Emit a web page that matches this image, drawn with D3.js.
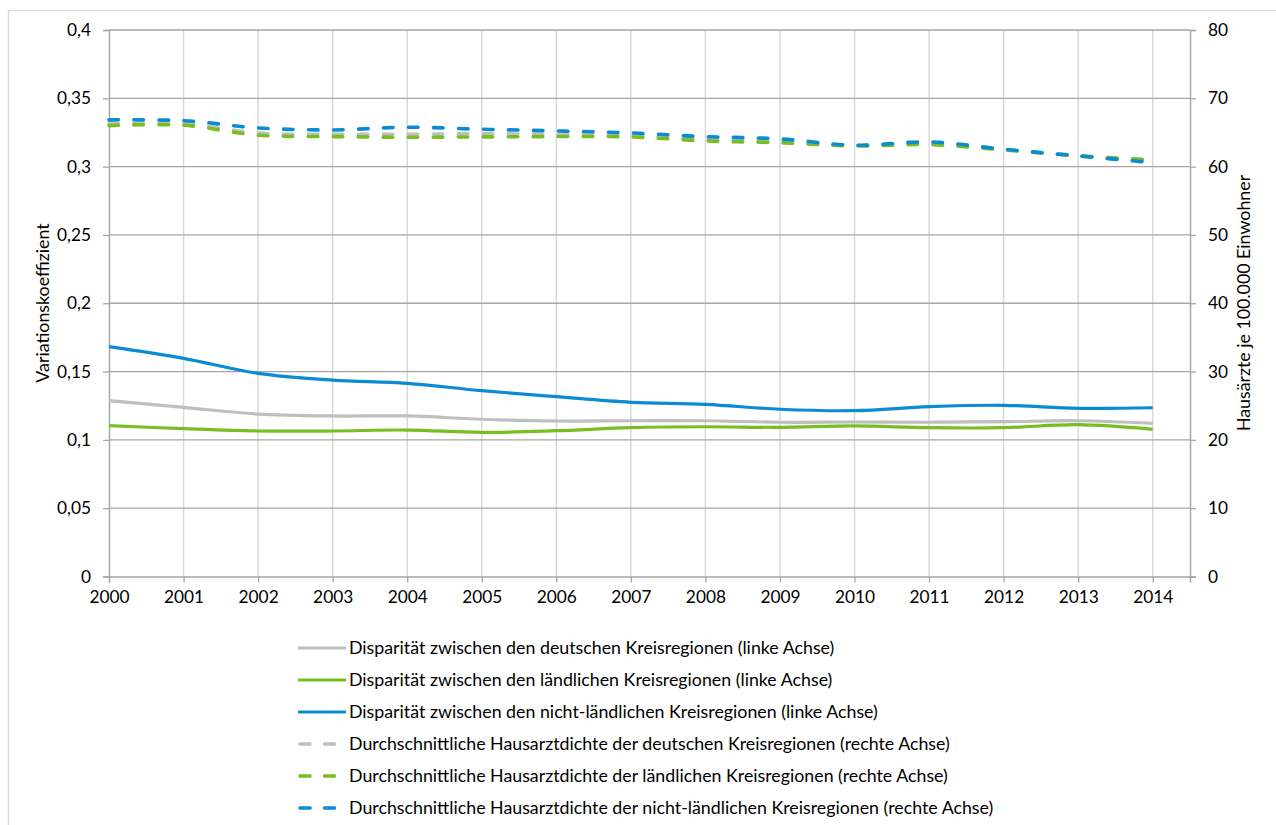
<!DOCTYPE html>
<html>
<head>
<meta charset="utf-8">
<script src="https://cdn.jsdelivr.net/npm/d3@7"></script>
<style>
  html, body { margin: 0; padding: 0; background: #ffffff; }
  svg { display: block; font-family: "Lato", "Open Sans", sans-serif; }
</style>
</head>
<body>
<svg id="chart" width="1276" height="825"></svg>
<script>
// ---- data ----
const years = [2000, 2001, 2002, 2003, 2004, 2005, 2006, 2007, 2008, 2009, 2010, 2011, 2012, 2013, 2014];

// Variationskoeffizient (linke Achse)
const dispDeutsch   = [0.1287, 0.1238, 0.1189, 0.1175, 0.1175, 0.1151, 0.1138, 0.1140, 0.1140, 0.1129, 0.1131, 0.1129, 0.1133, 0.1140, 0.1121];
const dispLaendlich = [0.1104, 0.1082, 0.1065, 0.1065, 0.1072, 0.1055, 0.1067, 0.1089, 0.1096, 0.1092, 0.1102, 0.1089, 0.1089, 0.1111, 0.1077];
const dispNicht     = [0.1682, 0.1597, 0.1487, 0.1438, 0.1414, 0.1360, 0.1316, 0.1275, 0.1260, 0.1224, 0.1214, 0.1243, 0.1253, 0.1231, 0.1235];

// Hausärzte je 100.000 Einwohner (rechte Achse)
const dichteDeutsch   = [66.35, 66.35, 64.90, 64.74, 64.74, 64.80, 64.74, 64.60, 64.06, 63.80, 63.10, 63.40, 62.50, 61.57, 60.76];
const dichteLaendlich = [66.00, 66.06, 64.60, 64.40, 64.30, 64.35, 64.40, 64.35, 63.76, 63.50, 63.03, 63.22, 62.45, 61.60, 60.98];
const dichteNicht     = [66.84, 66.73, 65.67, 65.37, 65.77, 65.47, 65.23, 64.93, 64.39, 64.06, 63.13, 63.62, 62.55, 61.57, 60.59];

const leftTicks  = [0, 0.05, 0.1, 0.15, 0.2, 0.25, 0.3, 0.35, 0.4];
const rightTicks = [0, 10, 20, 30, 40, 50, 60, 70, 80];

const leftTitle  = "Variationskoeffizient";
const rightTitle = "Hausärzte je 100.000 Einwohner";

const seriesNames = [
  "Disparität zwischen den deutschen Kreisregionen (linke Achse)",
  "Disparität zwischen den ländlichen Kreisregionen (linke Achse)",
  "Disparität zwischen den nicht-ländlichen Kreisregionen (linke Achse)",
  "Durchschnittliche Hausarztdichte der deutschen Kreisregionen (rechte Achse)",
  "Durchschnittliche Hausarztdichte der ländlichen Kreisregionen (rechte Achse)",
  "Durchschnittliche Hausarztdichte der nicht-ländlichen Kreisregionen (rechte Achse)"
];

// ---- styling ----
const cGray = "#bfbfbf", cGreen = "#78be20", cBlue = "#0a8bd3";
const series = [
  { name: seriesNames[0], values: dispDeutsch,     axis: "left",  color: cGray,  dashed: false },
  { name: seriesNames[1], values: dispLaendlich,   axis: "left",  color: cGreen, dashed: false },
  { name: seriesNames[2], values: dispNicht,       axis: "left",  color: cBlue,  dashed: false },
  { name: seriesNames[3], values: dichteDeutsch,   axis: "right", color: cGray,  dashed: true },
  { name: seriesNames[4], values: dichteLaendlich, axis: "right", color: cGreen, dashed: true },
  { name: seriesNames[5], values: dichteNicht,     axis: "right", color: cBlue,  dashed: true }
];

const svg = d3.select("#chart");
const plot = { left: 109, right: 1190, top: 30, bottom: 576.5 };
const tickFont = 17.3, textFont = 17.8;

const x = d3.scaleLinear().domain([2000, 2014.5]).range([plot.left, plot.right]);
const yL = d3.scaleLinear().domain([0, 0.4]).range([plot.bottom, plot.top]);
const yR = d3.scaleLinear().domain([0, 80]).range([plot.bottom, plot.top]);

// chart border
svg.append("rect").attr("x", 8.5).attr("y", 10.5).attr("width", 1300).attr("height", 900)
  .attr("fill", "none").attr("stroke", "#d9d9d9").attr("stroke-width", 1.3);

// vertical gridlines
svg.append("g").selectAll("line").data(years.slice(1)).join("line")
  .attr("x1", d => x(d)).attr("x2", d => x(d))
  .attr("y1", plot.top).attr("y2", plot.bottom)
  .attr("stroke", "#d9d9d9").attr("stroke-width", 1.5);

// horizontal gridlines
svg.append("g").selectAll("line").data(leftTicks.slice(1)).join("line")
  .attr("x1", plot.left).attr("x2", plot.right)
  .attr("y1", d => yL(d)).attr("y2", d => yL(d))
  .attr("stroke", "#a6a6a6").attr("stroke-width", 1.3);

const fmtL = d => String(d).replace(".", ",");

// left axis
const gL = svg.append("g").attr("transform", `translate(${plot.left},0)`)
  .call(d3.axisLeft(yL).tickValues(leftTicks).tickFormat(fmtL).tickSize(6).tickPadding(12));
// right axis
const gR = svg.append("g").attr("transform", `translate(${plot.right},0)`)
  .call(d3.axisRight(yR).tickValues(rightTicks).tickFormat(d3.format("d")).tickSize(6).tickPadding(12));
// bottom axis
const gB = svg.append("g").attr("transform", `translate(0,${plot.bottom})`)
  .call(d3.axisBottom(x).tickValues(years).tickFormat(d3.format("d")).tickSize(6).tickPadding(8));

[gL, gR, gB].forEach(g => {
  g.select(".domain").attr("stroke", "#a6a6a6").attr("stroke-width", 1.5);
  g.selectAll(".tick line").attr("stroke", "#a6a6a6").attr("stroke-width", 1.3);
  g.selectAll("text").attr("fill", "#000").attr("font-size", tickFont)
    .attr("font-family", "Lato, 'Open Sans', sans-serif");
});

// axis titles
svg.append("text").attr("transform", `translate(49,303) rotate(-90)`)
  .attr("text-anchor", "middle").attr("font-size", textFont).attr("fill", "#000").text(leftTitle);
svg.append("text").attr("transform", `translate(1250,303) rotate(-90)`)
  .attr("text-anchor", "middle").attr("font-size", textFont).attr("fill", "#000").text(rightTitle);

// lines
const curve = d3.curveCatmullRom.alpha(0.5);
const gLines = svg.append("g");
series.forEach(s => {
  const yS = s.axis === "left" ? yL : yR;
  const line = d3.line().x((d, i) => x(years[i])).y(d => yS(d)).curve(curve);
  gLines.append("path").datum(s.values)
    .attr("d", line)
    .attr("fill", "none")
    .attr("stroke", s.color)
    .attr("stroke-width", s.dashed ? 3.6 : 3.2)
    .attr("stroke-linecap", s.dashed ? "round" : "butt")
    .attr("stroke-linejoin", "round")
    .attr("stroke-dasharray", s.dashed ? "9.5,15.5" : null);
});

// legend
const legend = svg.append("g");
const rowY = d3.scaleLinear().domain([0, 5]).range([648, 808]);
series.forEach((s, i) => {
  const row = legend.append("g").attr("transform", `translate(0,${rowY(i)})`);
  if (s.dashed) {
    row.append("line").attr("x1", 300).attr("x2", 338).attr("y1", 0).attr("y2", 0)
      .attr("stroke", s.color).attr("stroke-width", 3.6)
      .attr("stroke-linecap", "round").attr("stroke-dasharray", "10,14.5");
  } else {
    row.append("line").attr("x1", 298).attr("x2", 346).attr("y1", 0).attr("y2", 0)
      .attr("stroke", s.color).attr("stroke-width", 3.2);
  }
  row.append("text").attr("x", 349).attr("y", 0).attr("dy", "0.35em")
    .attr("font-size", textFont).attr("fill", "#000").text(s.name);
});
</script>
</body>
</html>
